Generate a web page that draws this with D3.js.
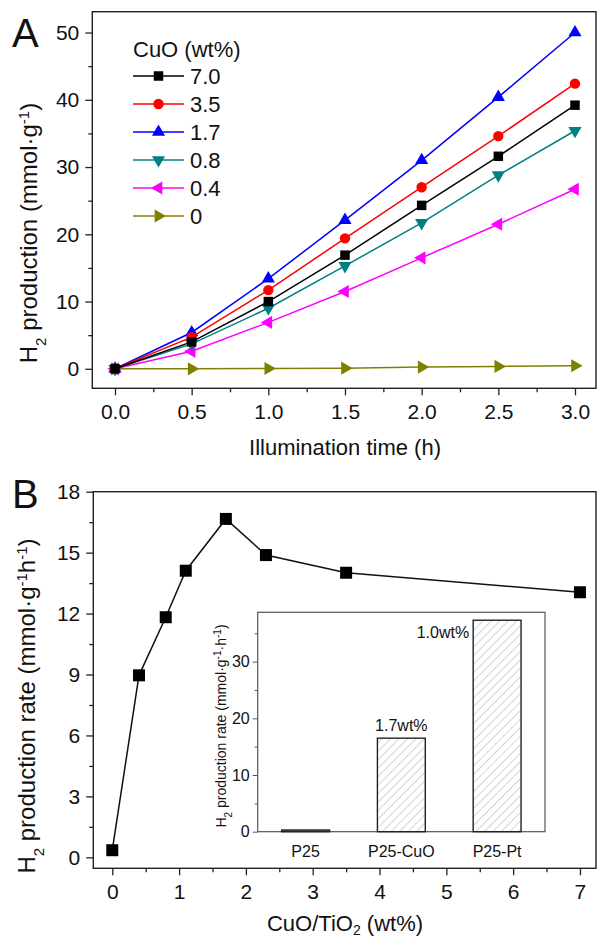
<!DOCTYPE html>
<html>
<head>
<meta charset="utf-8">
<script src="https://cdn.jsdelivr.net/npm/d3@7"></script>
<style>
  body { margin: 0; background: #fff; }
  text { font-family: Arial, "Liberation Sans", sans-serif; fill: #111; }
</style>
</head>
<body>
<div class="container"></div>
<script>
// ---- data ----
const times = [0, 0.5, 1.0, 1.5, 2.0, 2.5, 3.0];
const loadings = ['7.0', '3.5', '1.7', '0.8', '0.4', '0'];
const h2_cuo70 = [0, 4.0, 10.0, 16.9, 24.3, 31.6, 39.2];
const h2_cuo35 = [0, 4.7, 11.7, 19.4, 27.0, 34.6, 42.4];
const h2_cuo17 = [0, 5.4, 13.4, 22.1, 31.0, 40.4, 50.0];
const h2_cuo08 = [0, 3.7, 9.0, 15.3, 21.7, 28.8, 35.4];
const h2_cuo04 = [0, 2.6, 6.9, 11.5, 16.5, 21.5, 26.7];
const h2_cuo0  = [0, 0.0, 0.05, 0.1, 0.25, 0.35, 0.45];

const rateLoading = [0, 0.4, 0.8, 1.1, 1.7, 2.3, 3.5, 7];
const rateValues  = [0.35, 8.96, 11.82, 14.11, 16.66, 14.88, 14.01, 13.05];

const insetCats   = ['P25', 'P25-CuO', 'P25-Pt'];
const insetValues = [0.3, 16.5, 37.3];
const insetNotes  = ['', '1.7wt%', '1.0wt%'];

const seriesColors  = ['#000000', '#ff0000', '#0000ff', '#008080', '#ff00ff', '#808000'];
const seriesSymbols = ['square', 'circle', 'up', 'down', 'left', 'right'];

let seriesA = loadings.map((l, i) => ({
  name: l,
  values: [h2_cuo70, h2_cuo35, h2_cuo17, h2_cuo08, h2_cuo04, h2_cuo0][i],
  color: seriesColors[i],
  shape: seriesSymbols[i]
}));

let svg = d3.select('.container').append('svg')
  .attr('width', 597)
  .attr('height', 945);

function marker(sel, shape, color, big) {
  let k = big || 1;
  let sym, rot = 0;
  if (shape === 'square') sym = d3.symbol(d3.symbolSquare, 90 * k);
  else if (shape === 'circle') sym = d3.symbol(d3.symbolCircle, 85 * k);
  else {
    sym = d3.symbol(d3.symbolTriangle, 75 * k);
    rot = {up: 0, down: 180, left: -90, right: 90}[shape];
  }
  return sel.append('path')
    .attr('d', sym)
    .attr('transform', d => `translate(${d[0]},${d[1]}) rotate(${rot})`)
    .attr('fill', color);
}

function styleAxis(g, fs) {
  g.select('.domain').remove();
  g.selectAll('line').attr('stroke', '#222').attr('stroke-width', 1.3);
  g.selectAll('text').style('font-size', fs + 'px').attr('fill', '#111');
}

const tickFont = 21, titleFont = 22, yTitleFont = 24;

// ================= Panel A =================
let xA = d3.scaleLinear().domain([-0.148, 3.137]).range([92.3, 596]);
let yA = d3.scaleLinear().domain([-2.9, 53.1]).range([388.3, 11.7]);

let gA = svg.append('g');

gA.append('g').attr('transform', `translate(0,${yA.range()[0]})`)
  .call(d3.axisBottom(xA).tickValues([0.25, 0.75, 1.25, 1.75, 2.25, 2.75]).tickSize(4).tickFormat(''))
  .call(g => styleAxis(g, tickFont));
gA.append('g').attr('transform', `translate(0,${yA.range()[0]})`)
  .call(d3.axisBottom(xA).tickValues(times).tickSize(7).tickPadding(9).tickFormat(d3.format('.1f')))
  .call(g => styleAxis(g, tickFont));
gA.append('g').attr('transform', `translate(${xA.range()[0]},0)`)
  .call(d3.axisLeft(yA).tickValues([5, 15, 25, 35, 45]).tickSize(4).tickFormat(''))
  .call(g => styleAxis(g, tickFont));
gA.append('g').attr('transform', `translate(${xA.range()[0]},0)`)
  .call(d3.axisLeft(yA).tickValues([0, 10, 20, 30, 40, 50]).tickSize(7).tickPadding(6))
  .call(g => styleAxis(g, tickFont));

gA.append('rect')
  .attr('x', xA.range()[0]).attr('y', yA.range()[1])
  .attr('width', xA.range()[1] - xA.range()[0])
  .attr('height', yA.range()[0] - yA.range()[1])
  .attr('fill', 'none').attr('stroke', '#222').attr('stroke-width', 1.4);

let lineA = d3.line().x((d, i) => xA(times[i])).y(d => yA(d));

// draw from last to first so black sits on top at the origin like the original
seriesA.slice().reverse().forEach(s => {
  gA.append('path').datum(s.values)
    .attr('d', lineA)
    .attr('fill', 'none').attr('stroke', s.color).attr('stroke-width', 1.5);
  let pts = gA.append('g').selectAll('g').data(s.values.map((v, i) => [xA(times[i]), yA(v)])).enter();
  marker(pts, s.shape, s.color);
});

// legend
let leg = gA.append('g');
leg.append('text').attr('x', 133).attr('y', 49).attr('dy', '0.35em')
  .style('font-size', titleFont + 'px').text('CuO (wt%)');
seriesA.forEach((s, i) => {
  let y = 76 + i * 28;
  leg.append('line').attr('x1', 133).attr('x2', 184).attr('y1', y).attr('y2', y)
    .attr('stroke', s.color).attr('stroke-width', 1.5);
  marker(leg.append('g').selectAll('g').data([[158.5, y]]).enter(), s.shape, s.color);
  leg.append('text').attr('x', 190).attr('y', y).attr('dy', '0.35em')
    .style('font-size', titleFont + 'px').text(s.name);
});

gA.append('text').attr('x', 12).attr('y', 47).style('font-size', '40px').text('A');

gA.append('text').attr('x', 345).attr('y', 455).attr('text-anchor', 'middle')
  .style('font-size', titleFont + 'px').text('Illumination time (h)');

let yLabA = gA.append('text').attr('transform', 'translate(37,233) rotate(-90)')
  .attr('text-anchor', 'middle').style('font-size', yTitleFont + 'px');
yLabA.append('tspan').text('H');
yLabA.append('tspan').attr('baseline-shift', 'sub').style('font-size', '15px').text('2');
yLabA.append('tspan').text(' production (mmol·g');
yLabA.append('tspan').attr('baseline-shift', 'super').style('font-size', '15px').text('-1');
yLabA.append('tspan').text(')');

// ================= Panel B =================
let xB = d3.scaleLinear().domain([-0.284, 7.24]).range([93.3, 596]);
let yB = d3.scaleLinear().domain([-0.54, 18]).range([868.3, 491.7]);

let gB = svg.append('g');

gB.append('g').attr('transform', `translate(0,${yB.range()[0]})`)
  .call(d3.axisBottom(xB).tickValues(d3.range(0.5, 7, 1)).tickSize(4).tickFormat(''))
  .call(g => styleAxis(g, tickFont));
gB.append('g').attr('transform', `translate(0,${yB.range()[0]})`)
  .call(d3.axisBottom(xB).tickValues(d3.range(0, 8, 1)).tickSize(7).tickPadding(9))
  .call(g => styleAxis(g, tickFont));
gB.append('g').attr('transform', `translate(${xB.range()[0]},0)`)
  .call(d3.axisLeft(yB).tickValues(d3.range(1.5, 18, 3)).tickSize(4).tickFormat(''))
  .call(g => styleAxis(g, tickFont));
gB.append('g').attr('transform', `translate(${xB.range()[0]},0)`)
  .call(d3.axisLeft(yB).tickValues(d3.range(0, 19, 3)).tickSize(7).tickPadding(6))
  .call(g => styleAxis(g, tickFont));

gB.append('rect')
  .attr('x', xB.range()[0]).attr('y', yB.range()[1])
  .attr('width', xB.range()[1] - xB.range()[0])
  .attr('height', yB.range()[0] - yB.range()[1])
  .attr('fill', 'none').attr('stroke', '#222').attr('stroke-width', 1.4);

gB.append('path').datum(rateValues)
  .attr('d', d3.line().x((d, i) => xB(rateLoading[i])).y(d => yB(d)))
  .attr('fill', 'none').attr('stroke', '#111').attr('stroke-width', 1.5);
marker(gB.append('g').selectAll('g')
  .data(rateValues.map((v, i) => [xB(rateLoading[i]), yB(v)])).enter(), 'square', '#000', 1.6);

gB.append('text').attr('x', 12).attr('y', 508).style('font-size', '40px').text('B');

let xLabB = gB.append('text').attr('x', 345).attr('y', 931).attr('text-anchor', 'middle')
  .style('font-size', titleFont + 'px');
xLabB.append('tspan').text('CuO/TiO');
xLabB.append('tspan').attr('baseline-shift', '-4px').style('font-size', '14px').text('2');
xLabB.append('tspan').text(' (wt%)');

let yLabB = gB.append('text').attr('transform', 'translate(35,706) rotate(-90)')
  .attr('text-anchor', 'middle').style('font-size', yTitleFont + 'px');
yLabB.append('tspan').text('H');
yLabB.append('tspan').attr('baseline-shift', 'sub').style('font-size', '15px').text('2');
yLabB.append('tspan').text(' production rate (mmol·g');
yLabB.append('tspan').attr('baseline-shift', 'super').style('font-size', '15px').text('-1');
yLabB.append('tspan').text('h');
yLabB.append('tspan').attr('baseline-shift', 'super').style('font-size', '15px').text('-1');
yLabB.append('tspan').text(')');

// ---- inset ----
let defs = svg.append('defs');
let pat = defs.append('pattern').attr('id', 'hatch')
  .attr('patternUnits', 'userSpaceOnUse').attr('width', 6).attr('height', 6)
  .attr('patternTransform', 'rotate(45)');
pat.append('rect').attr('width', 6).attr('height', 6).attr('fill', '#fff');
pat.append('line').attr('x1', 0).attr('y1', 0).attr('x2', 0).attr('y2', 6)
  .attr('stroke', '#aaa').attr('stroke-width', 1);

let xI = d3.scaleBand().domain(insetCats).range([257.7, 545]).paddingInner(0.5).paddingOuter(0.25);
let yI = d3.scaleLinear().domain([0, 38.7]).range([831.7, 612.3]);

let gI = svg.append('g');
gI.append('rect')
  .attr('x', 257.7).attr('y', 612.3).attr('width', 545 - 257.7).attr('height', 831.7 - 612.3)
  .attr('fill', '#fff').attr('stroke', '#555').attr('stroke-width', 1.2);

gI.append('g').attr('transform', 'translate(257.7,0)')
  .call(d3.axisLeft(yI).tickValues([5, 15, 25, 35]).tickSize(3).tickFormat(''))
  .call(g => { styleAxis(g, 15); g.selectAll('line').attr('stroke', '#555').attr('stroke-width', 1); });
gI.append('g').attr('transform', 'translate(257.7,0)')
  .call(d3.axisLeft(yI).tickValues([0, 10, 20, 30]).tickSize(5).tickPadding(3))
  .call(g => { styleAxis(g, 16); g.selectAll('line').attr('stroke', '#555').attr('stroke-width', 1); g.selectAll('text').attr('fill', '#333'); });

gI.selectAll('rect.bar').data(insetValues).enter().append('rect')
  .attr('class', 'bar')
  .attr('x', (d, i) => xI(insetCats[i]))
  .attr('width', xI.bandwidth())
  .attr('y', d => yI(d))
  .attr('height', d => yI(0) - yI(d))
  .attr('fill', (d, i) => i === 0 ? '#888' : 'url(#hatch)')
  .attr('stroke', '#222').attr('stroke-width', 1.4);

gI.selectAll('text.cat').data(insetCats).enter().append('text')
  .attr('class', 'cat')
  .attr('x', d => xI(d) + xI.bandwidth() / 2).attr('y', 851).attr('dy', '0.35em')
  .attr('text-anchor', 'middle').style('font-size', '16px').attr('fill', '#333').text(d => d);

gI.append('text').attr('x', xI('P25-CuO') + xI.bandwidth() / 2).attr('y', yI(insetValues[1]) - 7)
  .attr('text-anchor', 'middle').style('font-size', '16px').attr('fill', '#333').text(insetNotes[1]);
gI.append('text').attr('x', xI('P25-Pt') - 4).attr('y', yI(insetValues[2]) + 18)
  .attr('text-anchor', 'end').style('font-size', '16px').attr('fill', '#333').text(insetNotes[2]);

let yLabI = gI.append('text').attr('transform', 'translate(226,726) rotate(-90)')
  .attr('text-anchor', 'middle').style('font-size', '14px').attr('fill', '#333');
yLabI.append('tspan').text('H');
yLabI.append('tspan').attr('baseline-shift', 'sub').style('font-size', '10px').text('2');
yLabI.append('tspan').text(' production rate (mmol·g');
yLabI.append('tspan').attr('baseline-shift', 'super').style('font-size', '10px').text('-1');
yLabI.append('tspan').text('·h');
yLabI.append('tspan').attr('baseline-shift', 'super').style('font-size', '10px').text('-1');
yLabI.append('tspan').text(')');
</script>
</body>
</html>
